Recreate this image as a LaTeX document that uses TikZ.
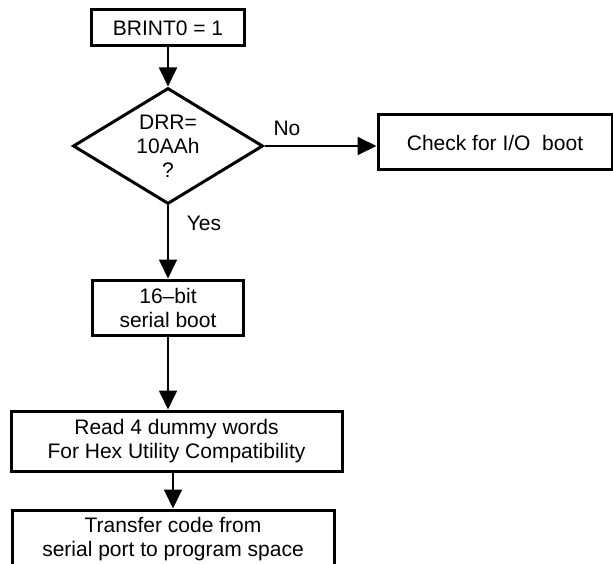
\documentclass[tikz,border=0pt]{standalone}
\usepackage{fontspec}
\setmainfont{Liberation Sans}
\usetikzlibrary{shapes.geometric,arrows.meta}

\begin{document}
\begin{tikzpicture}[x=1pt, y=-1pt,
        every node/.style={font=\fontsize{21}{24}\selectfont},
        procbox/.style={draw, rectangle, line width=3pt, inner sep=0pt, align=center},
        decision/.style={draw, diamond, line width=3pt, inner sep=0pt, aspect=1.64, align=center,
                         minimum width=190pt, minimum height=116pt},
        flow/.style={line width=1.8pt, -{Triangle[length=19pt, width=18pt]}}]

                \useasboundingbox (0, 0) rectangle (613, 564);

                % Nodes
                \node[procbox, minimum width=153pt, minimum height=36pt] (brint) at (168, 28) {BRINT0 = 1};
                \node[decision] (dec) at (168, 146) {DRR=\\10AAh\\?};
                \node[procbox, minimum width=234pt, minimum height=55pt] (check) at (495, 142.5) {Check for I/O\ \ boot};
                \node[procbox, minimum width=151pt, minimum height=55pt] (bit) at (168, 307.5) {16–bit\\serial boot};
                \node[procbox, minimum width=331pt, minimum height=60pt] (read) at (176.5, 441) {Read 4 dummy words\\For Hex Utility Compatibility};
                \node[procbox, minimum width=322pt, minimum height=58pt] (xfer) at (173, 539) {Transfer code from\\serial port to program space};

                % Labels
                \node (no) at (287, 128) {No};
                \node (yes) at (204, 223) {Yes};

                % Edges
                \draw[flow] (brint.south) -- (dec.north);
                \draw[flow] (dec.east) -- (dec.east -| check.west);
                \draw[flow] (dec.south) -- (bit.north);
                \draw[flow] (bit.south) -- (bit.south |- read.north);
                \draw[flow] (xfer.north |- read.south) -- (xfer.north);

\end{tikzpicture}
\end{document}
